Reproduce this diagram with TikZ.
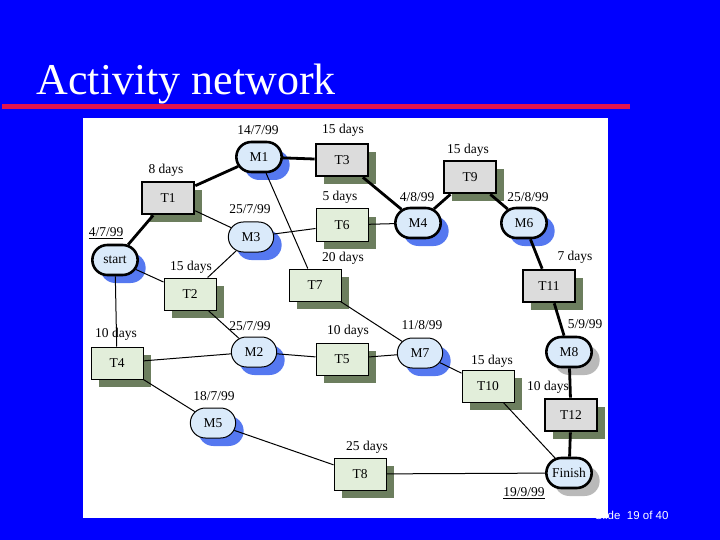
\documentclass[tikz,border=0pt]{standalone}
\usepackage{fontspec}
\setmainfont{Liberation Serif}
\setsansfont{Liberation Sans}
\usetikzlibrary{shapes.misc,shadows}
\definecolor{slideblue}{RGB}{0,0,255}
\definecolor{rulered}{RGB}{225,20,80}
\definecolor{actfill}{RGB}{226,238,218}
\definecolor{critfill}{RGB}{220,220,220}
\definecolor{milefill}{RGB}{218,234,250}
\definecolor{olive}{RGB}{108,126,94}
\definecolor{glow}{RGB}{85,120,240}
\definecolor{greyglow}{RGB}{185,185,185}

\begin{document}
\begin{tikzpicture}[x=1pt, y=-1pt, every node/.style={font=\fontsize{13.5}{15}\selectfont}, lab/.style={inner sep=1pt},
	act/.style={draw, line width=1pt, fill=actfill, minimum width=52pt, minimum height=32pt, drop shadow={shadow xshift=8pt, shadow yshift=-8pt, fill=olive, opacity=1}},
	crit/.style={act, line width=2.6pt, fill=critfill},
	mileshape/.style={rounded rectangle, draw, line width=1pt, fill=milefill, minimum width=52pt, minimum height=30pt},
	mile/.style={mileshape, drop shadow={shadow xshift=8pt, shadow yshift=-8pt, fill=glow, opacity=1}},
	critmile/.style={mile, line width=2.6pt},
	endmile/.style={mileshape, line width=2.6pt, drop shadow={shadow xshift=8pt, shadow yshift=-8pt, fill=greyglow, opacity=1}},
	link/.style={line width=1pt}, critlink/.style={line width=2.8pt}]
	\useasboundingbox (0,0) rectangle (720,540);
	\fill[slideblue] (0,0) rectangle (720,540);
	\node[white, anchor=base west, font=\fontsize{44}{50}\selectfont] (title) at (33,95) {Activity network};
	\fill[rulered] (2,104.5) rectangle (630,109.5);
	\node[white, anchor=base east, font=\sffamily\fontsize{11.5}{13}\selectfont] (footer) at (672,519) {Slide\ \ 19 of 40};
	\fill[white] (83,118) rectangle (608,518);
	% milestones
	\node[critmile] (start) at (115,260) {start};
	\node[critmile] (M1) at (259,157) {M1};
	\node[mile] (M2) at (254,352) {M2};
	\node[mile] (M3) at (251,237) {M3};
	\node[critmile] (M4) at (418,223) {M4};
	\node[mile] (M5) at (213,423) {M5};
	\node[critmile] (M6) at (524,223) {M6};
	\node[mile] (M7) at (420,353) {M7};
	\node[endmile] (M8) at (569,352) {M8};
	\node[endmile] (Finish) at (569,473) {Finish};
	% activities
	\node[crit] (T1) at (168,198) {T1};
	\node[act] (T2) at (190,294) {T2};
	\node[crit] (T3) at (342,160) {T3};
	\node[act] (T4) at (117,363) {T4};
	\node[act] (T5) at (342,359) {T5};
	\node[act] (T6) at (342,225) {T6};
	\node[act] (T7) at (315,285) {T7};
	\node[act] (T8) at (360,474) {T8};
	\node[crit] (T9) at (470,177) {T9};
	\node[act] (T10) at (488,386) {T10};
	\node[crit] (T11) at (549,286) {T11};
	\node[crit] (T12) at (571,415) {T12};
	% connectors
	\draw[critlink] (start) -- (T1) -- (M1) -- (T3) -- (M4) -- (T9) -- (M6) -- (T11) -- (M8) -- (T12) -- (Finish);
	\draw[link] (T1) -- (M3) -- (T6) -- (M4);
	\draw[link] (M1) -- (T7) -- (M7);
	\draw[link] (start) -- (T2) -- (M3);
	\draw[link] (T2) -- (M2) -- (T5) -- (M7) -- (T10) -- (Finish);
	\draw[link] (start) -- (T4) -- (M2);
	\draw[link] (T4) -- (M5) -- (T8) -- (Finish);
	% durations and dates
	\node[lab] (dM1) at (258,130) {14/7/99};
	\node[lab] (dT3) at (343,130) {15 days};
	\node[lab] (dT1) at (166,170) {8 days};
	\node[lab] (dstart) at (106,233) {\underline{4/7/99}};
	\node[lab] (dM3) at (250,209) {25/7/99};
	\node[lab] (dT6) at (340,197) {5 days};
	\node[lab] (dT2) at (191,267) {15 days};
	\node[lab] (dT7) at (343,258) {20 days};
	\node[lab] (dT9) at (468,150) {15 days};
	\node[lab] (dM4) at (417,197) {4/8/99};
	\node[lab] (dM6) at (528,197) {25/8/99};
	\node[lab] (dT11) at (575,257) {7 days};
	\node[lab] (dT4) at (116,334) {10 days};
	\node[lab] (dM2) at (250,326) {25/7/99};
	\node[lab] (dT5) at (348,331) {10 days};
	\node[lab] (dM7) at (422,325) {11/8/99};
	\node[lab] (dM8) at (585,324) {5/9/99};
	\node[lab] (dT10) at (492,361) {15 days};
	\node[lab] (dT12) at (548,387) {10 days};
	\node[lab] (dM5) at (214,396) {18/7/99};
	\node[lab] (dT8) at (367,447) {25 days};
	\node[lab] (dFinish) at (524,493) {\underline{19/9/99}};
\end{tikzpicture}
\end{document}
